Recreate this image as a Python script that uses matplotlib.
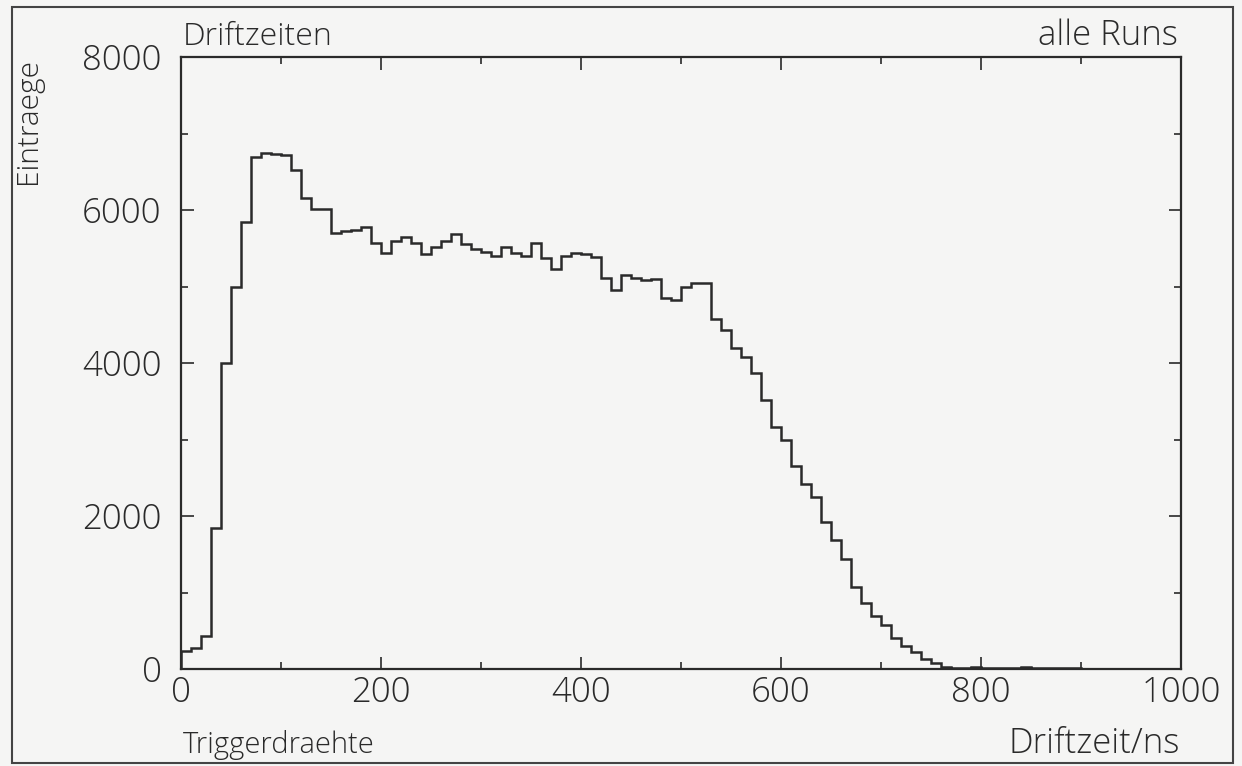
import numpy as np
import matplotlib
matplotlib.use("Agg")
import matplotlib.pyplot as plt
from matplotlib.patches import Rectangle

# ---- data ----
bin_width = 10
x_min, x_max = 0, 1000
counts = [
    230, 270, 431, 1839, 3995, 4997, 5847, 6696, 6748, 6731,      # 0-100
    6718, 6522, 6160, 6008, 6008, 5695, 5729, 5738, 5781, 5564,   # 100-200
    5441, 5598, 5642, 5564, 5424, 5520, 5598, 5685, 5551, 5485,   # 200-300
    5455, 5398, 5511, 5433, 5398, 5564, 5367, 5224, 5398, 5441,   # 300-400
    5424, 5380, 5106, 4953, 5150, 5106, 5084, 5093, 4853, 4823,   # 400-500
    4995, 5049, 5041, 4572, 4431, 4202, 4075, 3865, 3516, 3167,   # 500-600
    2987, 2657, 2418, 2252, 1925, 1686, 1438, 1076, 859, 697,     # 600-700
    575, 401, 301, 226, 127, 74, 30, 15, 12, 25,                  # 700-800
    10, 10, 10, 10, 25, 10, 8, 8, 8, 8,                           # 800-900
    6, 6, 6, 6, 5, 5, 5, 5, 5, 5,                                 # 900-1000
]
y_ticks = [0, 2000, 4000, 6000, 8000]
x_ticks = [0, 200, 400, 600, 800, 1000]
title_left = "Driftzeiten"
title_right = "alle Runs"
y_label = "Eintraege"
x_label = "Driftzeit/ns"
footer_left = "Triggerdraehte"

# ---- figure ----
W, H = 1242, 766
plt.rcParams['font.family'] = ['Open Sans', 'DejaVu Sans']
plt.rcParams['font.weight'] = 300
fig = plt.figure(figsize=(W / 100, H / 100), dpi=100)
bg = "#f5f5f4"
ink = "#2a2a2a"
txt_col = "#2a2a2a"
fig.patch.set_facecolor(bg)

def fx(px):
    return px / W

def fy(py):
    return 1 - py / H

ax = fig.add_axes([fx(181), fy(669), fx(1181) - fx(181), fy(57) - fy(669)])
ax.set_facecolor(bg)

edges = np.arange(x_min, x_max + bin_width, bin_width)
ax.stairs(counts, edges, color=ink, linewidth=1.8)

ax.set_xlim(x_min, x_max)
ax.set_ylim(0, 8000)
for s in ax.spines.values():
    s.set_color(ink)
    s.set_linewidth(1.6)

ax.set_xticks(x_ticks)
ax.set_xticks(np.arange(0, 1001, 100), minor=True)
ax.set_yticks(y_ticks)
ax.set_yticks(np.arange(0, 8001, 1000), minor=True)
ax.tick_params(which='both', direction='in', top=True, right=True,
               color=ink, width=1.2)
ax.tick_params(which='major', length=9)
ax.tick_params(which='minor', length=5)
ax.tick_params(axis='x', which='major', labelsize=25, pad=5, labelcolor=txt_col)
ax.tick_params(axis='y', which='major', labelsize=25, pad=14, labelcolor=txt_col)
for lab in ax.get_xticklabels() + ax.get_yticklabels():
    lab.set_fontweight(300)

txt_kw = dict(color=txt_col, fontweight=300)
fig.text(fx(183), fy(45), title_left, ha='left', va='baseline', fontsize=23, **txt_kw)
fig.text(fx(1178), fy(45), title_right, ha='right', va='baseline', fontsize=25, **txt_kw)
fig.text(fx(28), fy(58), y_label, rotation=90, ha='center', va='top', fontsize=21.5, **txt_kw)
fig.text(fx(1180), fy(753), x_label, ha='right', va='baseline', fontsize=25, **txt_kw)
fig.text(fx(183), fy(753), footer_left, ha='left', va='baseline', fontsize=21, **txt_kw)

# outer page frame
fig.add_artist(Rectangle((fx(12), fy(763)), fx(1233) - fx(12), fy(7) - fy(763),
                         transform=fig.transFigure, fill=False,
                         edgecolor='#444444', linewidth=1.5))

fig.savefig("out.png", dpi=100, facecolor=fig.get_facecolor())
